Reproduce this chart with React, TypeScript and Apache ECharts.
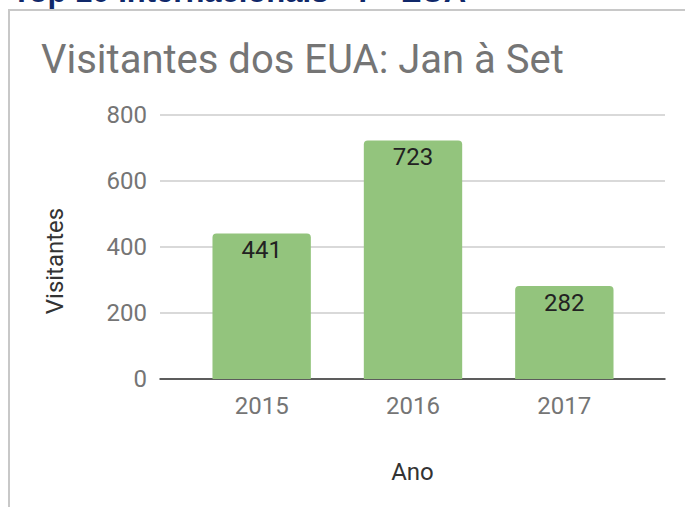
import React, { useEffect, useRef } from "react";
import * as echarts from "echarts";

const pageHeading = "Top 10 Internacionais - 7 - EUA";
const chartTitle = "Visitantes dos EUA: Jan à Set";
const years = ["2015", "2016", "2017"];
const visitors = [441, 723, 282];
const yTicks = [0, 200, 400, 600, 800];
const xAxisTitle = "Ano";
const yAxisTitle = "Visitantes";

export default function App() {
  const ref = useRef<HTMLDivElement>(null);

  useEffect(() => {
    document.body.style.margin = "0";
    if (!ref.current) return;
    const chart = echarts.init(ref.current, null, { renderer: "svg" });
    const yMin = yTicks[0];
    const yMax = yTicks[yTicks.length - 1];
    const yInterval = yTicks[1] - yTicks[0];
    chart.setOption({
      animation: false,
      backgroundColor: "#ffffff",
      textStyle: { fontFamily: "Roboto" },
      title: {
        text: chartTitle,
        left: 41,
        top: 39,
        padding: 0,
        textStyle: {
          fontFamily: "Roboto",
          fontSize: 40,
          fontWeight: "normal",
          color: "#757575",
        },
      },
      graphic: [
        {
          type: "rect",
          silent: true,
          shape: { x: 9, y: 10, width: 700, height: 600 },
          style: { fill: "none", stroke: "#c8c8c8", lineWidth: 2 },
          z: 0,
        },
        {
          type: "text",
          silent: true,
          left: 12,
          top: -24,
          style: {
            text: pageHeading,
            fontFamily: "Liberation Sans",
            fontWeight: "bold",
            fontSize: 31,
            fill: "#10286a",
          },
        },
      ],
      grid: [
        { left: 160, right: 20, top: 115, bottom: 128 },
        { left: 186, right: 45, top: 115, bottom: 128 },
      ],
      xAxis: [
        {
          gridIndex: 0,
          type: "value",
          min: 0,
          max: 1,
          name: xAxisTitle,
          nameLocation: "middle",
          nameGap: 81,
          nameTextStyle: { fontFamily: "Roboto", fontSize: 24, color: "#333" },
          axisLine: { show: true, lineStyle: { color: "#333", width: 1.5 } },
          axisTick: { show: false },
          axisLabel: { show: false },
          splitLine: { show: false },
        },
        {
          gridIndex: 1,
          type: "category",
          data: years,
          axisLine: { show: false },
          axisTick: { show: false },
          axisLabel: {
            margin: 15,
            fontFamily: "Roboto",
            fontSize: 24,
            color: "#757575",
          },
        },
      ],
      yAxis: [
        {
          gridIndex: 0,
          type: "value",
          min: yMin,
          max: yMax,
          interval: yInterval,
          name: yAxisTitle,
          nameLocation: "middle",
          nameRotate: 90,
          nameGap: 93,
          nameTextStyle: {
            fontFamily: "Roboto",
            fontSize: 24,
            color: "#333",
            padding: [0, 28, 0, 0],
          },
          axisLine: { show: false },
          axisTick: { show: false },
          axisLabel: {
            margin: 13,
            fontFamily: "Roboto",
            fontSize: 24,
            color: "#757575",
          },
          splitLine: { lineStyle: { color: "#cccccc", width: 1.5 } },
        },
        {
          gridIndex: 1,
          type: "value",
          min: yMin,
          max: yMax,
          interval: yInterval,
          show: false,
          splitLine: { show: false },
        },
      ],
      series: [
        {
          type: "bar",
          xAxisIndex: 1,
          yAxisIndex: 1,
          data: visitors,
          barWidth: "65%",
          z: 3,
          itemStyle: { color: "#93c47d", borderRadius: [4, 4, 0, 0] },
          label: {
            show: true,
            position: "insideTop",
            distance: 5,
            fontFamily: "Roboto",
            fontSize: 24,
            color: "#222",
          },
        },
      ],
    });
    return () => chart.dispose();
  }, []);

  return <div ref={ref} style={{ width: 685, height: 507 }} />;
}
